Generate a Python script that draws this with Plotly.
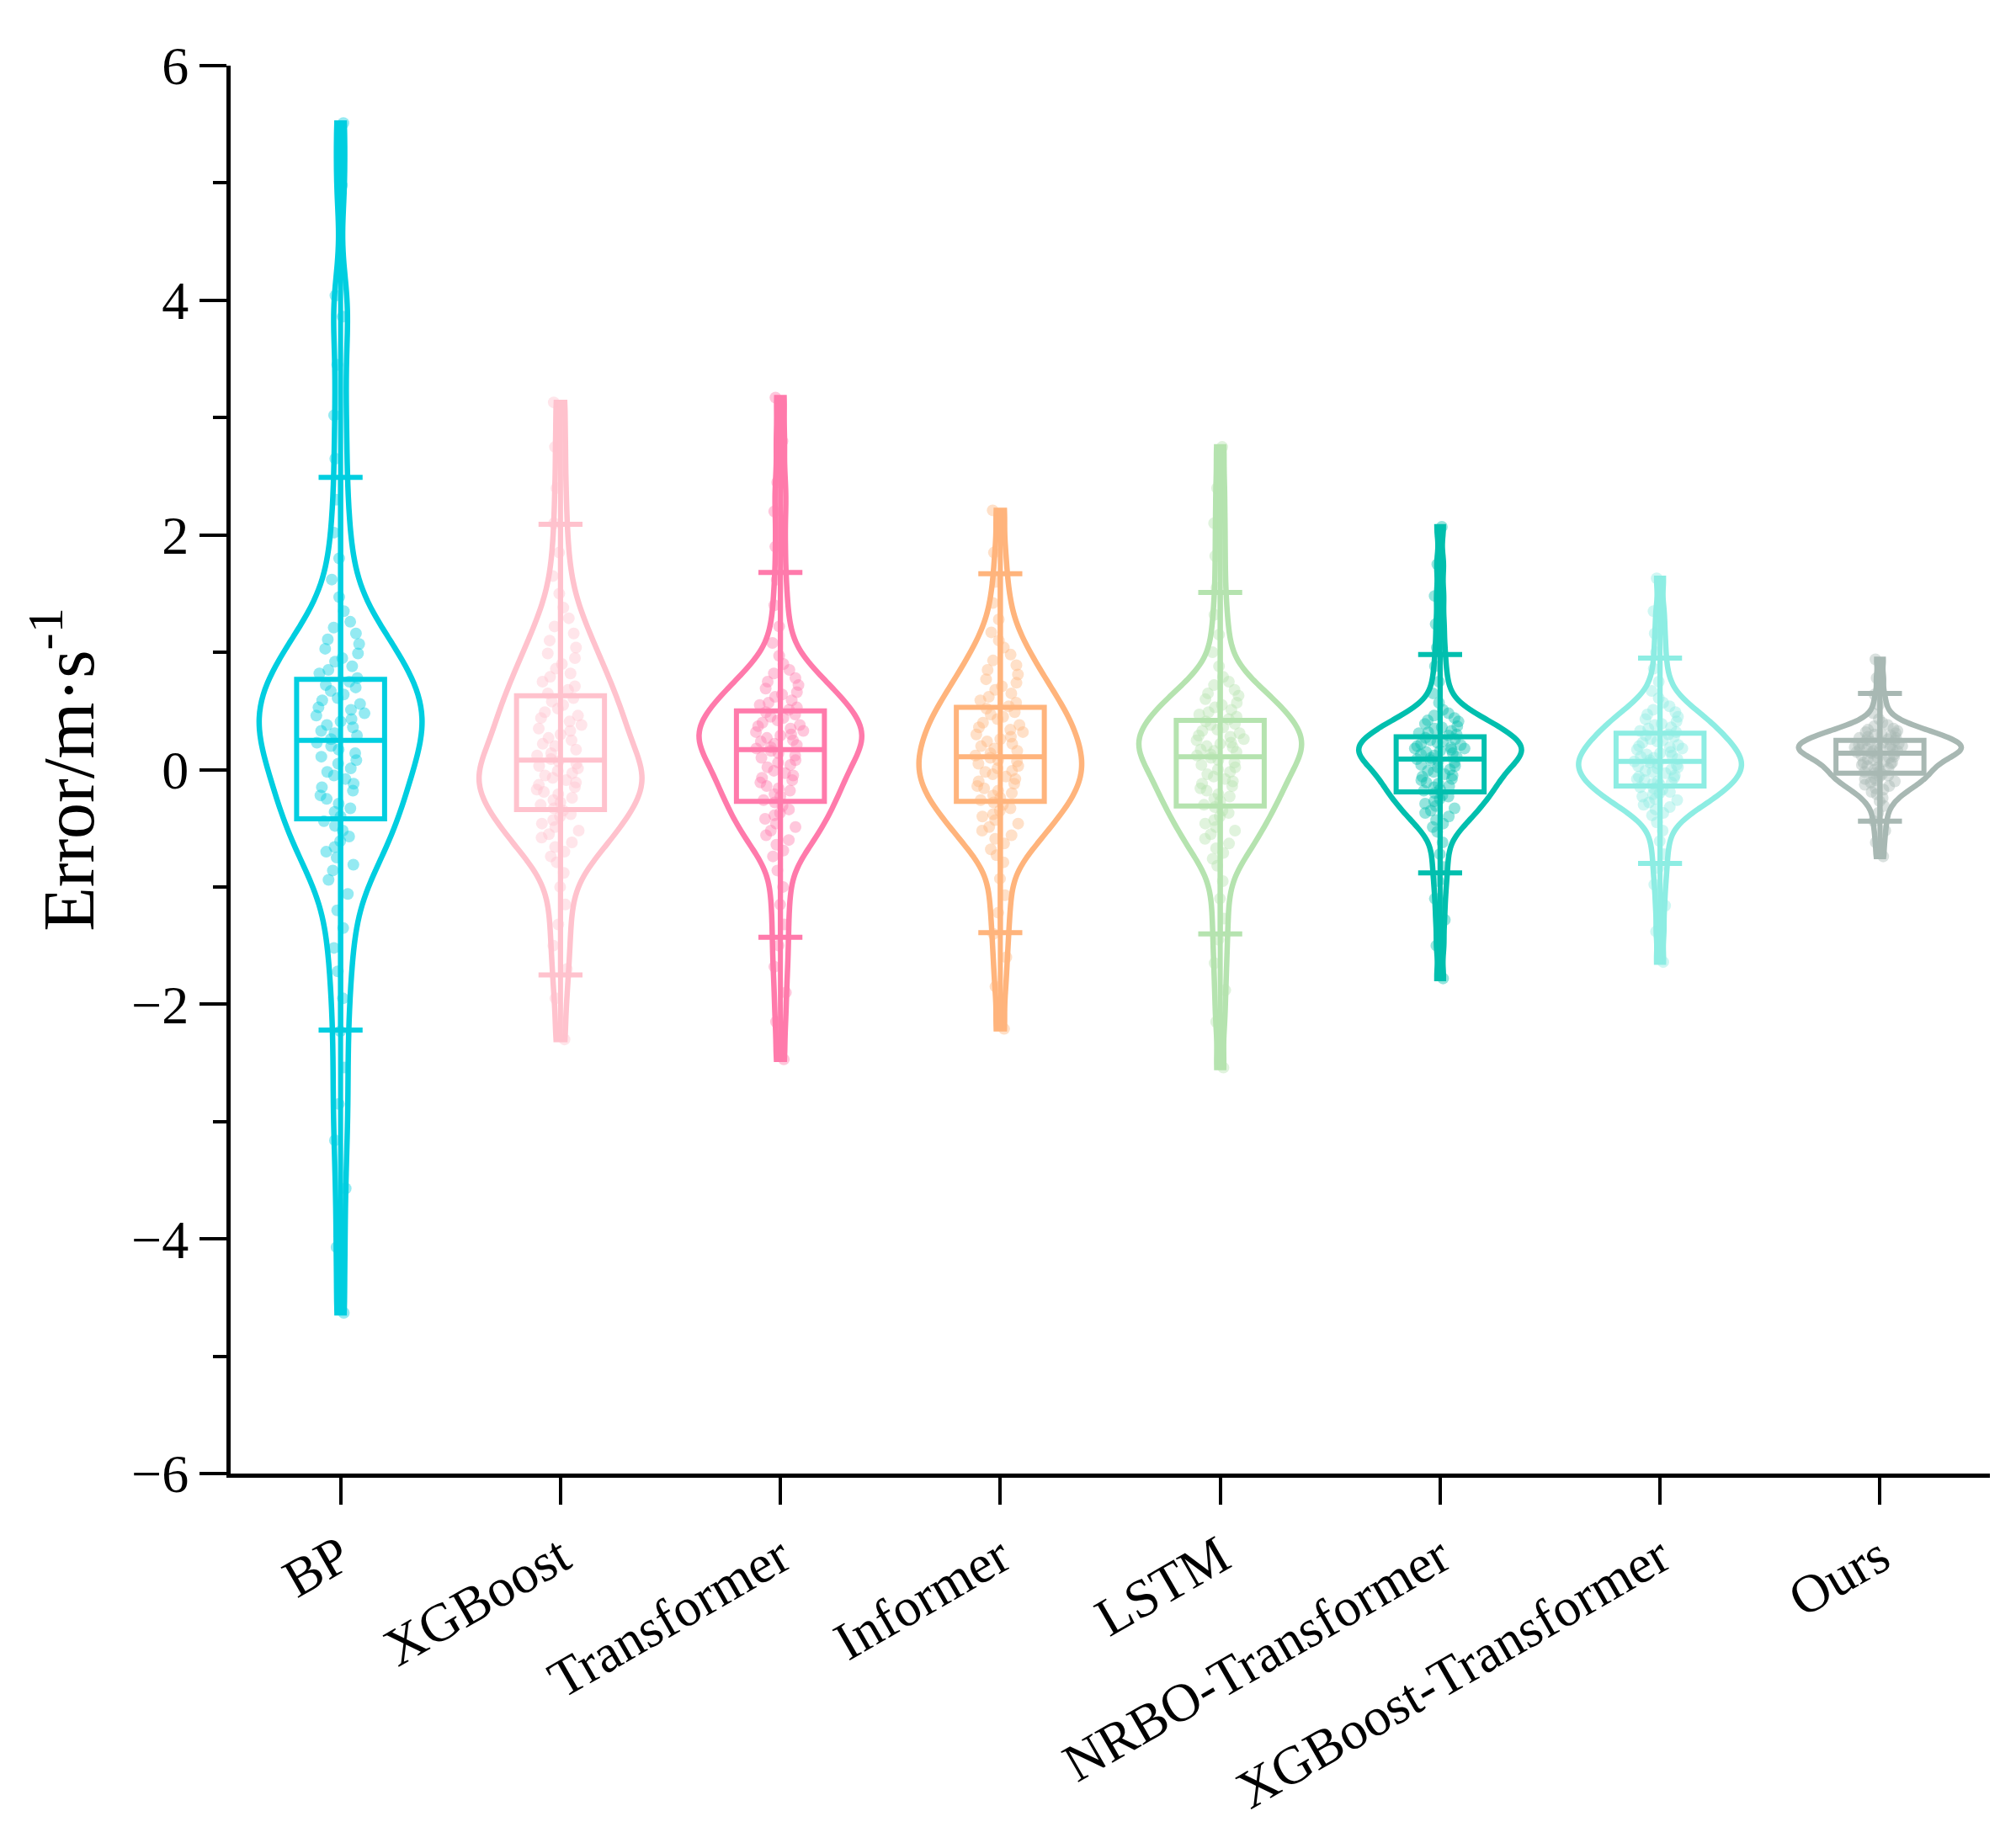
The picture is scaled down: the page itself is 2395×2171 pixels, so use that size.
import plotly.graph_objects as go

# model names along the x axis
models = ["BP", "XGBoost", "Transformer", "Informer", "LSTM",
          "NRBO-Transformer", "XGBoost-Transformer", "Ours"]

colors = ["#00CEE0", "#FFC2CD", "#FF7AAB", "#FFB47C",
          "#B5E3AF", "#00BFAE", "#8DEDE3", "#A8B8B3"]

err_bp = [-4.63, -4.07, -3.57, -3.16, -2.85, -2.54, -2.23, -1.95, -1.72, -1.52,
          -1.35, -1.20, -1.06, -0.94, -0.86, -0.81, -0.75, -0.70, -0.66, -0.61,
          -0.57, -0.52, -0.48, -0.44, -0.40, -0.36, -0.33, -0.29, -0.25, -0.22,
          -0.18, -0.15, -0.12, -0.08, -0.05, -0.02, 0.01, 0.05, 0.08, 0.11,
          0.14, 0.17, 0.20, 0.23,
          0.26, 0.29, 0.31, 0.33, 0.36, 0.38, 0.41, 0.43, 0.46, 0.48,
          0.51, 0.53, 0.56, 0.59, 0.61, 0.64, 0.67, 0.70, 0.72, 0.75,
          0.78, 0.82, 0.85, 0.88, 0.92, 0.95, 0.99, 1.03, 1.07, 1.11,
          1.16, 1.21, 1.26, 1.35, 1.47, 1.62, 1.80, 2.02, 2.30, 2.65,
          3.02, 3.45, 3.86, 4.04, 4.98, 5.51]
err_xgb = [-2.30, -1.95, -1.70, -1.50, -1.32, -1.15, -1.00, -0.88, -0.79, -0.74,
           -0.70, -0.66, -0.62, -0.58, -0.55, -0.52, -0.49, -0.46, -0.43, -0.40,
           -0.38, -0.35, -0.33, -0.30, -0.28, -0.26, -0.24, -0.21, -0.19, -0.17,
           -0.15, -0.13, -0.11, -0.09, -0.07, -0.05, -0.03, -0.01, 0.01, 0.03,
           0.05, 0.07,
           0.09, 0.12, 0.14, 0.17, 0.20, 0.22, 0.25, 0.27, 0.30, 0.33,
           0.35, 0.38, 0.41, 0.44, 0.46, 0.49, 0.52, 0.55, 0.58, 0.61,
           0.65, 0.68, 0.71, 0.75, 0.79, 0.82, 0.86, 0.90, 0.95, 0.99,
           1.04, 1.10, 1.16, 1.22, 1.29, 1.38, 1.50, 1.65, 1.85, 2.10,
           2.40, 2.75, 3.13]
err_trans = [-2.47, -2.15, -1.90, -1.68, -1.50, -1.32, -1.15, -1.00, -0.86, -0.74,
             -0.69, -0.64, -0.60, -0.56, -0.52, -0.49, -0.46, -0.42, -0.39, -0.37,
             -0.34, -0.31, -0.28, -0.26, -0.23, -0.21, -0.18, -0.16, -0.14, -0.11,
             -0.09, -0.07, -0.05, -0.03, -0.01, 0.02, 0.04, 0.06, 0.08, 0.10,
             0.12, 0.14, 0.16,
             0.18, 0.19, 0.21, 0.22, 0.24, 0.25, 0.27, 0.29, 0.30, 0.32,
             0.33, 0.35, 0.37, 0.38, 0.40, 0.42, 0.44, 0.45, 0.47, 0.49,
             0.51, 0.53, 0.55, 0.57, 0.59, 0.62, 0.64, 0.66, 0.69, 0.72,
             0.75, 0.78, 0.82, 0.85, 0.90, 0.97, 1.08, 1.22, 1.40, 1.62,
             1.90, 2.20, 2.45, 2.80, 3.17]
err_inf = [-2.21, -1.85, -1.60, -1.40, -1.22, -1.07, -0.93, -0.79, -0.73, -0.68,
           -0.63, -0.59, -0.56, -0.52, -0.49, -0.46, -0.43, -0.40, -0.38, -0.35,
           -0.33, -0.30, -0.28, -0.26, -0.24, -0.22, -0.20, -0.18, -0.16, -0.14,
           -0.12, -0.10, -0.08, -0.06, -0.04, -0.02, -0.01, 0.01, 0.03, 0.05,
           0.07, 0.08, 0.10,
           0.12, 0.14, 0.16, 0.18, 0.20, 0.22, 0.24, 0.26, 0.28, 0.30,
           0.32, 0.34, 0.36, 0.38, 0.40, 0.43, 0.45, 0.47, 0.49, 0.52,
           0.54, 0.57, 0.59, 0.62, 0.65, 0.68, 0.71, 0.74, 0.77, 0.81,
           0.85, 0.89, 0.93, 0.98, 1.04, 1.10, 1.17, 1.28, 1.42, 1.60,
           1.85, 2.21]
err_lstm = [-2.54, -2.15, -1.88, -1.65, -1.45, -1.27, -1.10, -0.95, -0.82, -0.76,
            -0.71, -0.67, -0.63, -0.59, -0.55, -0.52, -0.49, -0.46, -0.43, -0.40,
            -0.37, -0.35, -0.32, -0.30, -0.27, -0.25, -0.23, -0.21, -0.18, -0.16,
            -0.14, -0.12, -0.10, -0.08, -0.06, -0.04, -0.02, 0.00, 0.02, 0.04,
            0.06, 0.08, 0.10,
            0.12, 0.13, 0.15, 0.16, 0.17, 0.19, 0.20, 0.22, 0.23, 0.25,
            0.26, 0.28, 0.29, 0.31, 0.33, 0.34, 0.36, 0.38, 0.39, 0.41,
            0.43, 0.45, 0.47, 0.49, 0.51, 0.53, 0.55, 0.57, 0.60, 0.63,
            0.65, 0.68, 0.72, 0.75, 0.79, 0.88, 1.00, 1.15, 1.32, 1.55,
            1.82, 2.10, 2.40, 2.75]
err_nrbo = [-1.78, -1.50, -1.28, -1.10, -0.95, -0.83, -0.72, -0.62, -0.53, -0.49,
            -0.46, -0.43, -0.40, -0.37, -0.35, -0.33, -0.31, -0.29, -0.27, -0.25,
            -0.23, -0.22, -0.20, -0.18, -0.17, -0.15, -0.14, -0.12, -0.11, -0.09,
            -0.08, -0.06, -0.05, -0.04, -0.02, -0.01, 0.00, 0.02, 0.03, 0.04,
            0.06, 0.07, 0.08,
            0.09, 0.10, 0.11, 0.12, 0.13, 0.14, 0.15, 0.16, 0.17, 0.18,
            0.18, 0.19, 0.20, 0.21, 0.22, 0.23, 0.24, 0.25, 0.26, 0.27,
            0.29, 0.30, 0.31, 0.32, 0.33, 0.35, 0.36, 0.37, 0.39, 0.41,
            0.42, 0.44, 0.46, 0.48, 0.51, 0.57, 0.65, 0.75, 0.88, 1.04,
            1.24, 1.48, 1.75, 2.07]
err_xgbt = [-1.64, -1.38, -1.16, -0.98, -0.84, -0.72, -0.61, -0.52, -0.45, -0.39,
            -0.37, -0.34, -0.32, -0.30, -0.28, -0.26, -0.25, -0.23, -0.21, -0.20,
            -0.19, -0.17, -0.16, -0.15, -0.13, -0.12, -0.11, -0.10, -0.09, -0.08,
            -0.07, -0.06, -0.05, -0.03, -0.02, -0.01, 0.00, 0.01, 0.02, 0.03,
            0.04, 0.05, 0.06, 0.07,
            0.08, 0.09, 0.10, 0.11, 0.12, 0.13, 0.14, 0.15, 0.17, 0.18,
            0.19, 0.20, 0.21, 0.23, 0.24, 0.25, 0.26, 0.28, 0.29, 0.30,
            0.32, 0.33, 0.35, 0.36, 0.38, 0.39, 0.41, 0.43, 0.45, 0.47,
            0.49, 0.51, 0.54, 0.57, 0.61, 0.67, 0.75, 0.86, 1.00, 1.16,
            1.35, 1.63]
err_ours = [-0.74, -0.62, -0.52, -0.44, -0.37, -0.31, -0.27, -0.24, -0.21, -0.19,
            -0.17, -0.16, -0.14, -0.13, -0.11, -0.10, -0.09, -0.08, -0.07, -0.06,
            -0.05, -0.04, -0.03, -0.02, -0.01, 0.00, 0.01, 0.02, 0.03, 0.04,
            0.05, 0.06, 0.06, 0.07, 0.08, 0.09, 0.10, 0.10, 0.11, 0.12,
            0.13, 0.14,
            0.14, 0.15, 0.15, 0.16, 0.16, 0.17, 0.17, 0.18, 0.18, 0.19,
            0.19, 0.20, 0.21, 0.21, 0.22, 0.22, 0.23, 0.23, 0.24, 0.25,
            0.25, 0.26, 0.27, 0.27, 0.28, 0.29, 0.30, 0.30, 0.31, 0.32,
            0.33, 0.34, 0.35, 0.37, 0.38, 0.40, 0.43, 0.48, 0.55, 0.64,
            0.78, 0.94]

samples = [err_bp, err_xgb, err_trans, err_inf, err_lstm, err_nrbo, err_xgbt, err_ours]

# box statistics as drawn (quartiles and whisker caps)
q1 = [-0.42, -0.34, -0.27, -0.27, -0.31, -0.19, -0.14, -0.03]
median = [0.25, 0.08, 0.17, 0.11, 0.11, 0.09, 0.07, 0.14]
q3 = [0.77, 0.63, 0.50, 0.53, 0.42, 0.28, 0.31, 0.25]
upper_cap = [2.49, 2.09, 1.68, 1.67, 1.51, 0.98, 0.95, 0.65]
lower_cap = [-2.22, -1.75, -1.43, -1.39, -1.40, -0.88, -0.80, -0.44]

# kde bandwidth per model
bandwidths = [0.3, 0.2, 0.17, 0.17, 0.17, 0.11, 0.11, 0.065]

FONT = "Liberation Serif"

fig = go.Figure()

for i, name in enumerate(models):
    c = colors[i]
    data = samples[i]
    fig.add_trace(go.Violin(
        x=[name] * len(data), y=data, name=name,
        line=dict(color=c, width=6.5),
        fillcolor="rgba(0,0,0,0)",
        points="all", pointpos=0, jitter=0.32,
        marker=dict(size=14, color=c, opacity=0.42, line=dict(width=0)),
        width=0.74, spanmode="hard", bandwidth=bandwidths[i],
        box_visible=False, meanline_visible=False,
        showlegend=False, hoverinfo="skip",
    ))

for i, name in enumerate(models):
    c = colors[i]
    # centre line from min to max of the sample
    fig.add_trace(go.Scatter(
        x=[name, name], y=[min(samples[i]), max(samples[i])],
        mode="lines", line=dict(color=c, width=6),
        showlegend=False, hoverinfo="skip",
    ))
    fig.add_trace(go.Box(
        x=[name], q1=[q1[i]], median=[median[i]], q3=[q3[i]],
        lowerfence=[lower_cap[i]], upperfence=[upper_cap[i]],
        width=0.40, whiskerwidth=0.5,
        line=dict(color=c, width=6),
        fillcolor="rgba(0,0,0,0)",
        boxpoints=False, showlegend=False, hoverinfo="skip",
    ))

fig.update_layout(
    width=2395, height=2171,
    margin=dict(l=266, r=39, t=70, b=428),
    plot_bgcolor="white", paper_bgcolor="white",
    violinmode="overlay", boxmode="overlay",
    font=dict(family=FONT, color="black", size=64),
    hovermode=False,
)

fig.update_xaxes(
    type="category", categoryorder="array", categoryarray=models,
    range=[-0.5, 7.5],
    showline=True, linecolor="black", linewidth=5,
    ticks="outside", ticklen=32, tickwidth=4, tickcolor="black",
    tickangle=-30, tickfont=dict(family=FONT, size=64),
    showgrid=False, zeroline=False,
)

fig.update_yaxes(
    range=[-6, 6], tick0=0, dtick=2,
    showline=True, linecolor="black", linewidth=5,
    ticks="outside", ticklen=32, tickwidth=4, tickcolor="black",
    minor=dict(dtick=1, ticks="outside", ticklen=16, tickwidth=4, tickcolor="black"),
    tickfont=dict(family=FONT, size=64),
    showgrid=False, zeroline=False,
    title=dict(text="Error/m·s<sup>-1</sup>", font=dict(family=FONT, size=86), standoff=18),
)

fig.write_html("out.html")
